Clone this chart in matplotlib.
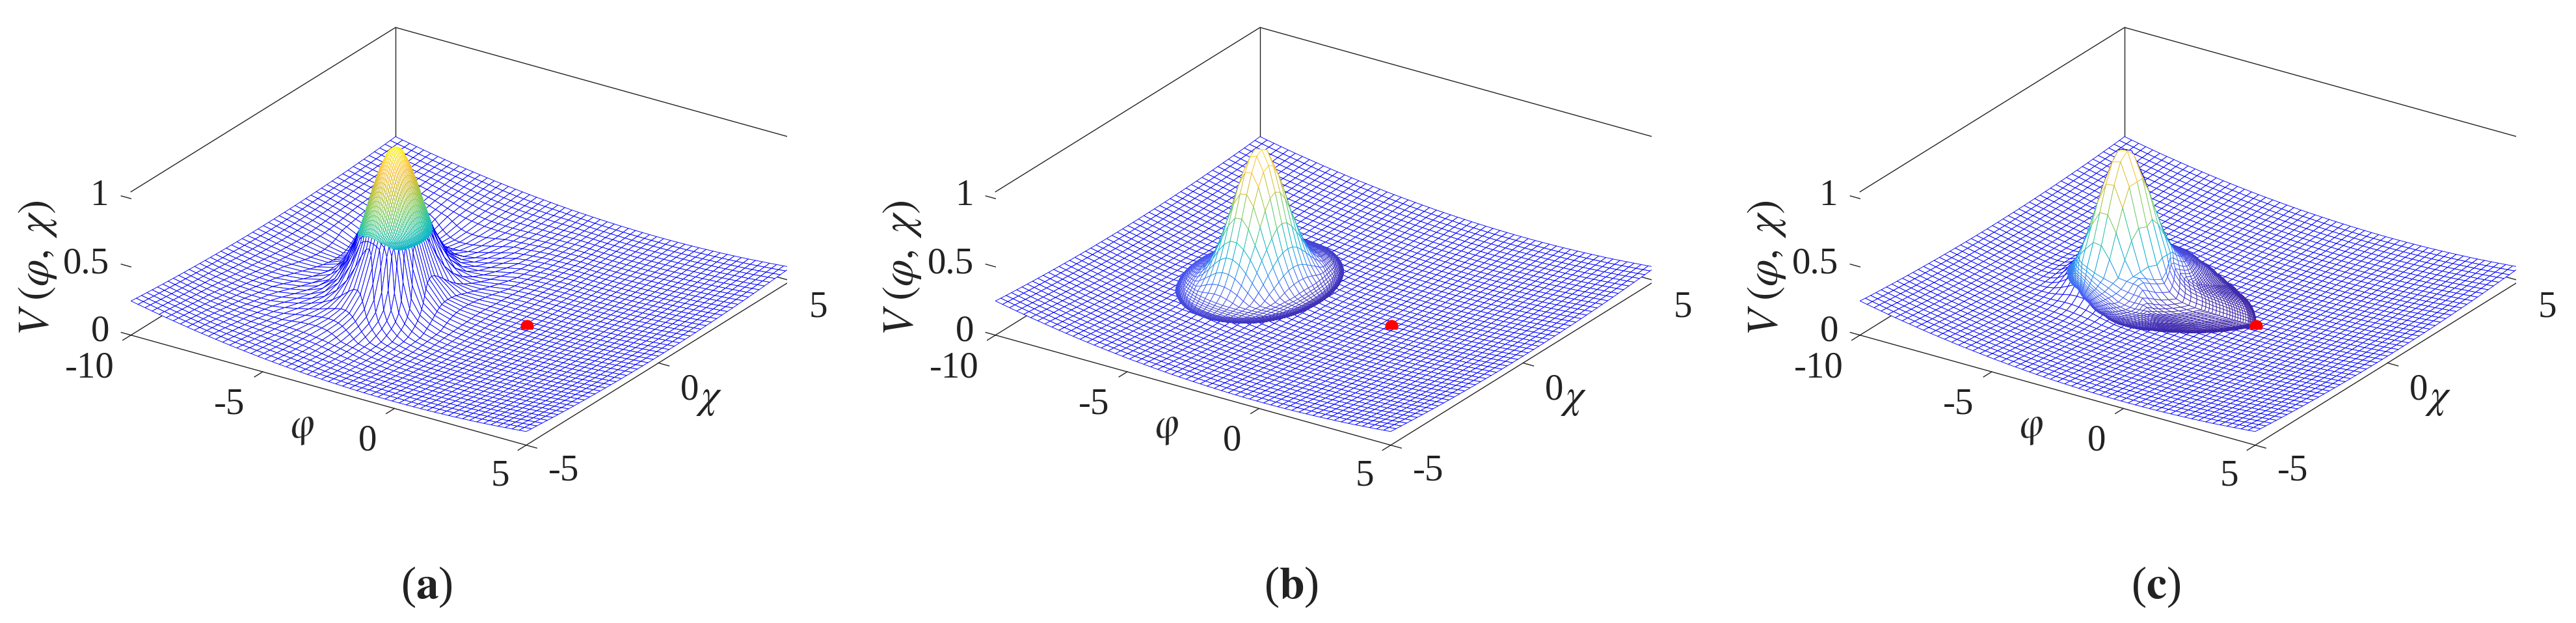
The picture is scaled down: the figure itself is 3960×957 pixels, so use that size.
import numpy as np
import matplotlib
matplotlib.use('Agg')
import matplotlib.pyplot as plt
from matplotlib.colors import LinearSegmentedColormap
from matplotlib.path import Path
from mpl_toolkits.mplot3d.art3d import Poly3DCollection

# NOTE: the tables below are estimates. The wire mesh has
# thousands of vertices that cannot be read one by one, so vertex heights and
# warped positions are looked up between table entries with np.interp. The mesh
# is therefore a reconstruction, not a vertex-by-vertex reading.

# axes
phi_lim = [-10, 5]
chi_lim = [-5, 5]
z_lim = [0, 1.05]
phi_ticks = [-10, -5, 0, 5]
chi_ticks = [-5, 0, 5]
z_ticks = [0, 0.5, 1]
panel_names = ['a', 'b', 'c']
phi_cells = 56
chi_cells = 50

# false vacuum (bump centre) and true vacuum (red dot)
bump_centre = [-5, 0]
red_dot = [0, 0, 0]

# V against distance from the red dot
bowl_r = [0, 1, 2, 3, 4, 5, 6, 7, 8, 9, 10, 11, 12]
bowl_V = [0, 0.002, 0.008, 0.018, 0.032, 0.05, 0.072, 0.098, 0.128, 0.162, 0.2, 0.242, 0.288]

# extra V against distance from the bump centre
bump_rho = [0, 0.2, 0.4, 0.6, 0.8, 1.0, 1.2, 1.4, 1.6, 1.8, 2.0, 2.3, 2.6, 3.0]
bump_V = [1.0, 0.96, 0.85, 0.70, 0.53, 0.37, 0.24, 0.14, 0.077, 0.039, 0.018, 0.005, 0.001, 0]

# blue mesh warp around the bump in panel a (regular radius -> drawn radius)
warp_from = [0, 2.2, 2.6, 3.6, 4.2, 5, 20]
warp_to = [0, 0.9, 1.0, 3.3, 4.1, 5, 20]

# coloured cap: regular radius -> fraction of the cap outline
cap_from_a = [0, 1, 2, 3, 4, 4.6, 5.2, 6.5, 8, 12]
cap_frac_a = [0, 0.2, 0.4, 0.6, 0.78, 0.88, 0.93, 0.98, 1, 1]
cap_from_b = [0, 1, 2, 3, 4, 5, 7, 12]
cap_frac_b = [0, 0.42, 0.76, 0.89, 0.95, 0.98, 1, 1]

# panel c: a round inner part plus a stretch out to the teardrop outline
inner_c = 1.2
inner_from_c = [0, 1, 2, 3, 12]
inner_frac_c = [0, 0.95, 0.99, 1, 1]
tail_from_c = [0, 0.15, 0.3, 0.5, 0.7, 0.85, 1]
tail_frac_c = [0, 0.1, 0.45, 0.72, 0.92, 0.98, 1]

# cap outline radius against direction
outline_a = 1.0
outline_b = 2.25
outline_deg_c = [-180, -160, -140, -120, -100, -80, -60, -45, -30, -20, -10, 0, 10, 20, 30, 40, 60, 90, 120, 150, 180]
outline_c = [1.65, 1.55, 1.5, 1.5, 1.5, 1.65, 1.95, 2.4, 2.95, 3.5, 4.25, 5.0, 4.2, 3.4, 2.85, 2.5, 2.1, 1.95, 1.8, 1.7, 1.65]

parula = LinearSegmentedColormap.from_list('parula', [
    (0.2422, 0.1504, 0.6603), (0.2780, 0.3556, 0.9777), (0.1540, 0.5902, 0.9218),
    (0.0297, 0.7082, 0.8163), (0.1938, 0.7758, 0.6251), (0.5044, 0.7993, 0.3480),
    (0.8000, 0.7500, 0.2000), (0.9970, 0.7659, 0.2199), (0.9769, 0.9839, 0.0805)])

plt.rcParams['font.family'] = ['Liberation Serif', 'DejaVu Serif']
plt.rcParams['mathtext.fontset'] = 'stix'

W, H = 3960, 957
BLUE = '#0000ff'
DARK = '#222222'
PANEL_STEP = 1329
AX_SIZE = 1031


def height(phi, chi):
    r = np.hypot(phi, chi)
    rho = np.hypot(phi - bump_centre[0], chi - bump_centre[1])
    return np.interp(r, bowl_r, bowl_V) + np.interp(rho, bump_rho, bump_V)


def quads(x, y, z):
    pts = np.dstack([x, y, z])
    return np.stack([pts[:-1, :-1], pts[:-1, 1:], pts[1:, 1:], pts[1:, :-1]], axis=2).reshape(-1, 4, 3)


def put(x, y, s, size=41, **kw):
    kw.setdefault('ha', 'center')
    fig.text(x / W, 1 - y / H, s, fontsize=size, va='center', color='#222222', **kw)


phi_grid = np.linspace(phi_lim[0], phi_lim[1], phi_cells + 1)
chi_grid = np.linspace(chi_lim[0], chi_lim[1], chi_cells + 1)
P, C = np.meshgrid(phi_grid, chi_grid)
dp, dc = P - bump_centre[0], C - bump_centre[1]
rho0 = np.hypot(dp, dc)
angle = np.arctan2(dc, dp)
# 0 at the bump centre, 1 on the edge of the grid
edge_pos = np.maximum(np.abs(dc) / chi_lim[1], np.where(dp > 0, dp / (phi_lim[1] - bump_centre[0]),
                                                         dp / (phi_lim[0] - bump_centre[0])))

fig = plt.figure(figsize=(W / 100, H / 100), dpi=100)

for i, name in enumerate(panel_names):
    off = i * PANEL_STEP
    left = (708.5 + off - 0.5135 * AX_SIZE) / W
    bottom = (H - 363 - 0.5135 * AX_SIZE) / H
    ax = fig.add_axes([left, bottom, AX_SIZE / W, AX_SIZE / H], projection='3d')
    ax.set_proj_type('ortho')
    ax.view_init(elev=24.55, azim=-56.2)
    ax.set_box_aspect((1, 1, 0.331))
    ax.set_axis_off()
    ax.computed_zorder = False
    ax.patch.set_alpha(0)

    # box
    x0, x1 = phi_lim
    y0, y1 = chi_lim
    top = z_lim[1]
    box = [([x0, x0, x1], [y0, y1, y1], [top, top, top]),
           ([x0, x0], [y1, y1], [0, top]),
           ([x0, x1, x1, x0, x0], [y0, y0, y1, y1, y0], [0, 0, 0, 0, 0])]
    if name != 'c':
        box.append(([x1, x1], [y1, y1], [0, top]))
    for bx, by, bz in box:
        ax.plot(bx, by, bz, color=DARK, lw=1.0, zorder=1)
    for t in phi_ticks:
        ax.plot([t, t], [y0, y0 - 0.31], [0, 0], color=DARK, lw=1.0, zorder=1)
    for t in chi_ticks:
        ax.plot([x1, x1 + 0.4], [t, t], [0, 0], color=DARK, lw=1.0, zorder=1)
    for t in z_ticks:
        ax.plot([x0, x0 - 0.37], [y0, y0], [t, t], color=DARK, lw=1.0, zorder=1)

    # blue background mesh
    scale = np.ones_like(rho0)
    if name == 'a':
        scale = np.interp(rho0, warp_from, warp_to) / np.maximum(rho0, 1e-9)
    Xb = bump_centre[0] + dp * scale
    Yb = bump_centre[1] + dc * scale
    Zb = height(Xb, Yb)
    back = Poly3DCollection(quads(Xb, Yb, Zb), facecolors='white', edgecolors=BLUE, linewidths=0.65, zorder=2)
    ax.add_collection3d(back, autolim=False)

    # coloured cap over the bump
    if name == 'a':
        rho1 = outline_a * np.interp(rho0, cap_from_a, cap_frac_a)
    elif name == 'b':
        rho1 = outline_b * np.interp(rho0, cap_from_b, cap_frac_b)
    else:
        outline = np.interp(np.degrees(angle), outline_deg_c, outline_c)
        rho1 = (inner_c * np.interp(rho0, inner_from_c, inner_frac_c)
                + (outline - inner_c) * np.interp(edge_pos, tail_from_c, tail_frac_c))
    Xc = bump_centre[0] + rho1 * np.cos(angle)
    Yc = bump_centre[1] + rho1 * np.sin(angle)
    Zc = height(Xc, Yc)
    faces = quads(Xc, Yc, Zc)
    edge = parula(np.clip(faces[:, :, 2].mean(axis=1) / z_lim[1], 0, 1))
    cap = Poly3DCollection(faces, facecolors='white', edgecolors=edge, linewidths=0.65, zorder=3)
    ax.add_collection3d(cap, autolim=False)

    ax.scatter([red_dot[0]], [red_dot[1]], [red_dot[2]], s=210, color='#ff0000',
               marker=Path.arc(-30, 210), linewidths=0, depthshade=False, zorder=4)

    ax.set_xlim(phi_lim[0], phi_lim[1], view_margin=0)
    ax.set_ylim(chi_lim[0], chi_lim[1], view_margin=0)
    ax.set_zlim(z_lim[0], z_lim[1], view_margin=0)

    # tick labels and axis names
    for t, x, y in zip(phi_ticks, [138, 353, 565, 769], [566, 622, 678, 732]):
        put(x + off, y, str(t))
    for t, x, y in zip(chi_ticks, [867, 1060, 1258], [723, 600, 473]):
        put(x + off, y, str(t))
    for t, y in zip(z_ticks, [510, 405, 301]):
        put(168 + off, y, str(t), ha='right')
    put(58 + off, 412, r'$V\;(\varphi,\;\chi)$', size=48, rotation=90)
    put(465 + off, 656, r'$\varphi$', size=46, rotation=15)
    put(1090 + off, 612, r'$\chi$', size=46)
    put(656 + off, 902, '($\\mathbf{%s}$)' % name, size=50)

fig.savefig('out.png', dpi=100, facecolor='white')
